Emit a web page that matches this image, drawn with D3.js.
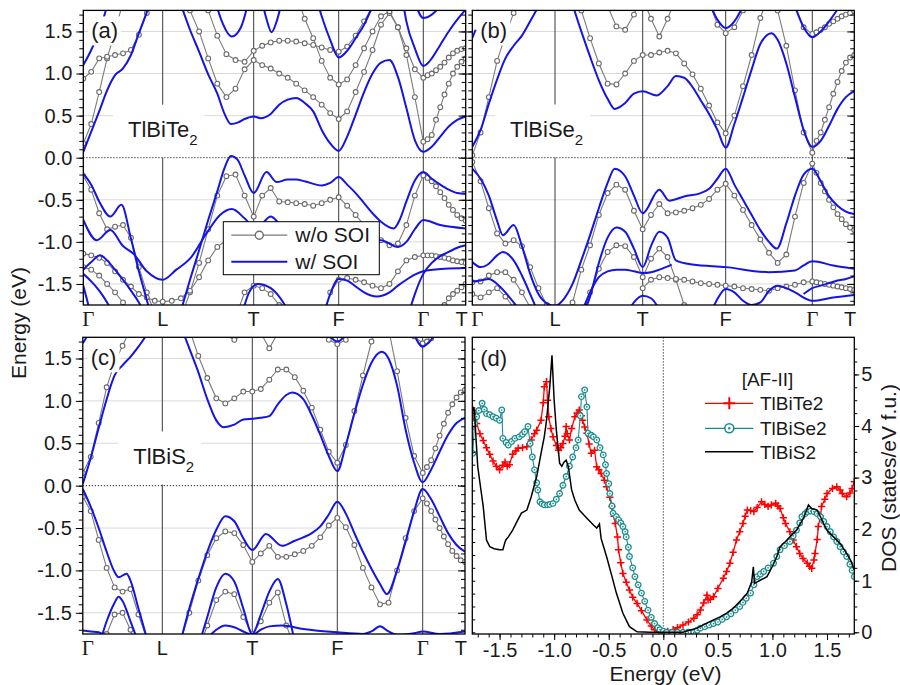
<!DOCTYPE html>
<html>
<head>
<meta charset="utf-8">
<script src="https://cdn.jsdelivr.net/npm/d3@7"></script>
<style>
body{margin:0;background:#fff}
</style>
</head>
<body>
<svg id="fig" width="900" height="685"></svg>
<script>
// ---- tick / label data
const kLabels=['Γ','L','T','F','Γ','T']
const eMajor=[-1.5,-1.0,-0.5,0.0,0.5,1.0,1.5]
const eGrid=[-1.5,-1.0,-0.5,0.5,1.0,1.5]
const dosXTicks=[-1.5,-1.0,-0.5,0.0,0.5,1.0,1.5]
const dosYTicks=[0,1,2,3,4,5]
const legendBands=['w/o SOI','w/ SOI']
const legendDos=['TlBiTe2','TlBiSe2','TlBiS2']

// gray (w/o SOI) bands: [start k, energies every 0.1 in k]
const grayTe=[
 [0,[0.17,0.40,0.78,1.18,1.50,1.85]],
 [1.2,[1.95,1.75,1.50,1.18,0.88,0.72,0.82,1.05,1.16, 1.10,1.06,1.00,0.95,0.88,0.80,0.72,0.63,0.53,0.46, 0.55,0.78,1.02,1.28,1.58,1.72,1.55,1.22,0.72,0.19, 0.22,0.27,0.45,0.60,0.75,0.88,1.00,1.08,1.14,1.18]],
 [0,[0.94,1.02,1.18,1.20,1.22,1.24,1.28,1.46,1.72,1.95]],
 [2.5,[1.95,1.65,1.42,1.15,0.95,0.87,0.93,1.10,1.30,1.50,1.68,1.74,1.55,1.30,1.05,0.95,0.98,1.00,1.04,1.08,1.13,1.19,1.24,1.27,1.29,1.30]],
 [1.5,[1.75,1.45,1.23,1.16,1.14,1.27,1.33,1.37,1.39,1.39,1.38,1.36,1.34,1.31,1.28,1.26,1.32,1.45,1.62,1.80]],
 [0,[-0.22,-0.38,-0.66,-0.85,-0.82,-0.80,-0.95,-1.30,-1.60,-1.85]],
 [1.2,[-1.9,-1.6,-1.25,-0.85,-0.45,-0.22,-0.20,-0.45,-0.70, -0.45,-0.36,-0.52,-0.53,-0.54,-0.55,-0.57,-0.54,-0.50,-0.47, -0.57,-0.68,-0.80,-0.90,-0.98,-1.04,-1.02,-0.80,-0.45,-0.21, -0.24,-0.28,-0.34,-0.41,-0.48,-0.56,-0.62,-0.68,-0.72,-0.75]],
 [0,[-1.14,-1.16,-1.19,-1.25,-1.35,-1.45,-1.53,-1.62,-1.66,-1.70,-1.71,-1.70,-1.67,-1.58,-1.42,-1.22,-1.06,-0.98,-0.97,-1.05,-1.20]],
 [0,[-1.30,-1.33,-1.40,-1.50,-1.60,-1.72,-1.85]],
 [2.9,[-1.60,-1.45,-1.43,-1.45,-1.48,-1.52,-1.55,-1.50,-1.35,-1.22,-1.18,-1.16,-1.16,-1.16,-1.17,-1.18,-1.19,-1.20,-1.22,-1.23,-1.24,-1.25]],
 [4.3,[-1.95,-1.85,-1.75,-1.67,-1.62,-1.58,-1.54,-1.50]],
 [1.8,[-1.9,-1.60,-1.52,-1.55,-1.62,-1.75,-1.9]]
]
// blue (w/ SOI) bands: [k, E] pairs
const blueTe=[
 [[0,0.07],[0.1,0.31],[0.2,0.55],[0.3,0.80],[0.4,0.98],[0.5,1.06],[0.6,1.22],[0.7,1.48],[0.8,1.73],[0.9,2.0]],
 [[1.2,1.82],[1.3,1.52],[1.4,1.26],[1.5,0.99],[1.6,0.76],[1.68,0.52],[1.75,0.40],[1.83,0.42],[1.9,0.46],[2.0,0.49],[2.08,0.47],[2.2,0.52],[2.3,0.63],[2.4,0.69],[2.5,0.71],[2.6,0.65],[2.7,0.55],[2.8,0.33],[2.9,0.17],[3.0,0.08],[3.1,0.25],[3.2,0.51],[3.3,0.78],[3.4,1.00],[3.5,1.13],[3.6,1.16],[3.7,0.96],[3.8,0.59],[3.9,0.21],[4.0,0.07],[4.2,0.13],[4.4,0.25],[4.6,0.37],[4.8,0.45],[5.0,0.49]],
 [[0,1.10],[0.1,1.28],[0.2,1.5],[0.3,1.8]],
 [[1.58,1.85],[1.65,1.62],[1.76,1.44],[1.86,1.55],[1.93,1.80]],
 [[2.1,1.85],[2.15,1.65],[2.21,1.49],[2.27,1.62],[2.33,1.85]],
 [[2.75,1.85],[2.8,1.68],[2.9,1.40],[3.0,1.19],[3.1,1.27],[3.2,1.42],[3.3,1.58],[3.4,1.80]],
 [[3.76,1.85],[3.8,1.62],[3.9,1.30],[4.0,1.09],[4.1,1.12],[4.2,1.18],[4.4,1.34],[4.6,1.50],[4.8,1.64],[5.0,1.76]],
 [[3.9,1.85],[4.0,1.66],[4.2,1.70],[4.4,1.80]],
 [[0,-0.19],[0.1,-0.32],[0.2,-0.52],[0.34,-0.70],[0.48,-0.56],[0.6,-0.96],[0.7,-1.35],[0.8,-1.69],[0.86,-1.9]],
 [[1.2,-1.82],[1.3,-1.45],[1.4,-1.10],[1.5,-0.74],[1.6,-0.40],[1.68,-0.12],[1.75,0.02],[1.82,-0.02],[1.9,-0.21],[2.0,-0.42],[2.15,-0.17],[2.27,-0.29],[2.4,-0.26],[2.5,-0.26],[2.6,-0.28],[2.8,-0.33],[2.9,-0.30],[3.0,-0.23],[3.1,-0.32],[3.2,-0.42],[3.3,-0.54],[3.4,-0.66],[3.5,-0.76],[3.65,-0.84],[3.72,-0.74],[3.8,-0.52],[3.9,-0.27],[4.0,-0.17],[4.2,-0.25],[4.4,-0.32],[4.6,-0.38],[4.8,-0.42],[5.0,-0.43]],
 [[0,-0.74],[0.17,-0.98],[0.34,-0.86],[0.5,-1.05],[0.63,-1.14],[0.8,-1.35],[1.0,-1.45],[1.15,-1.33],[1.3,-1.20],[1.48,-0.90],[1.63,-0.68],[1.76,-0.61],[1.9,-0.72],[2.0,-0.82],[2.1,-0.78],[2.2,-0.70],[2.3,-0.78],[2.5,-0.90],[3.0,-1.0],[3.5,-0.98],[3.7,-1.06],[3.8,-1.0],[3.9,-0.85],[4.0,-0.74],[4.4,-0.80],[5.0,-0.84]],
 [[0,-1.33],[0.1,-1.24],[0.21,-1.16],[0.3,-1.22],[0.4,-1.33],[0.5,-1.45],[0.6,-1.58],[0.7,-1.72],[0.8,-1.9]],
 [[0,-1.38],[0.1,-1.47],[0.2,-1.58],[0.3,-1.72],[0.4,-1.9]],
 [[0,-1.52],[0.05,-1.7],[0.1,-1.9]],
 [[2.8,-1.95],[2.9,-1.62],[3.0,-1.44],[3.1,-1.46],[3.2,-1.53],[3.3,-1.60],[3.45,-1.65],[3.6,-1.60],[3.7,-1.52],[3.8,-1.45],[3.9,-1.39],[4.0,-1.35],[4.5,-1.32],[5.0,-1.31]],
 [[3.8,-1.95],[3.9,-1.62],[4.0,-1.38],[4.2,-1.25],[4.4,-1.17],[4.6,-1.12],[4.8,-1.07],[5.0,-1.04]],
 [[1.85,-1.95],[1.95,-1.6],[2.05,-1.5],[2.2,-1.55],[2.3,-1.65],[2.45,-1.9]]
]

const graySe=[
 [0,[0.03,0.30,0.72,1.15,1.45,1.72,1.95]],
 [1.2,[1.95,1.75,1.42,1.12,0.88,0.87,1.00,1.15,1.22, 1.22,1.25,1.27,1.24,1.12,0.99,0.82,0.62,0.42,0.29, 0.50,0.85,1.22,1.66,1.95,1.75,1.33,0.80,0.30,0.06, 0.20,0.30,0.45,0.60,0.76,0.90,1.03,1.13,1.19,1.22]],
 [2.8,[1.85,1.58,1.48,1.55,1.75,1.95]],
 [3.8,[1.80,1.55,1.47,1.49,1.52,1.55,1.59,1.62,1.65,1.68,1.70,1.72,1.74]],
 [1.6,[1.80,1.56,1.52,1.70,1.95]],
 [2.0,[1.9,1.65,1.44,1.65,1.9]],
 [0,[-0.05,-0.28,-0.60,-0.90,-1.02,-0.98,-1.05,-1.30,-1.55,-1.75,-1.9]],
 [1.1,[-1.95,-1.72,-1.33,-1.04,-0.68,-0.42,-0.32,-0.38,-0.63,-0.85, -0.68,-0.55,-0.66,-0.65,-0.63,-0.60,-0.56,-0.49,-0.38,-0.31, -0.45,-0.62,-0.80,-0.97,-1.13,-1.25,-1.15,-0.70,-0.30,-0.07, -0.18,-0.30,-0.40,-0.50,-0.59,-0.67,-0.73,-0.79,-0.83,-0.86]],
 [0,[-1.48,-1.47,-1.40,-1.36,-1.36,-1.45,-1.60,-1.78,-1.95]],
 [0,[-1.62,-1.66,-1.60,-1.55,-1.65,-1.78,-1.95]],
 [1.3,[-1.9,-1.60,-1.32,-1.12,-1.04,-1.05,-1.18,-1.42,-1.20,-1.08,-1.18,-1.45,-1.75]],
 [2.0,[-1.55,-1.45,-1.42,-1.43,-1.44,-1.45,-1.47,-1.49,-1.50,-1.51,-1.52,-1.53,-1.55,-1.56,-1.57,-1.58,-1.55,-1.53,-1.51,-1.48,-1.47,-1.48,-1.49,-1.50,-1.51,-1.52,-1.53,-1.54,-1.55,-1.56,-1.57]]
]
const blueSe=[
 [[0,0.13],[0.1,0.33],[0.2,0.64],[0.3,0.93],[0.4,1.18],[0.5,1.33],[0.6,1.45],[0.7,1.62],[0.8,1.80],[0.9,2.0]],
 [[1.2,1.82],[1.3,1.50],[1.4,1.20],[1.5,0.92],[1.6,0.70],[1.68,0.58],[1.8,0.65],[1.9,0.76],[2.0,0.79],[2.17,0.74],[2.3,0.85],[2.4,0.97],[2.5,0.95],[2.6,0.84],[2.7,0.68],[2.8,0.52],[2.9,0.33],[3.0,0.12],[3.1,0.40],[3.2,0.72],[3.3,1.05],[3.4,1.35],[3.53,1.48],[3.6,1.40],[3.7,1.12],[3.8,0.72],[3.9,0.33],[4.0,0.13],[4.2,0.20],[4.4,0.38],[4.6,0.58],[4.8,0.72],[5.0,0.79]],
 [[0,1.42],[0.04,1.52]],
 [[2.8,1.85],[2.9,1.64],[3.0,1.54],[3.1,1.62],[3.2,1.80]],
 [[3.8,1.80],[3.9,1.55],[4.0,1.43],[4.2,1.50],[4.4,1.62],[4.6,1.76]],
 [[0,-0.13],[0.1,-0.25],[0.2,-0.45],[0.3,-0.75],[0.37,-0.92],[0.5,-0.80],[0.6,-1.05],[0.7,-1.38],[0.8,-1.62],[0.9,-1.73],[1.0,-1.76],[1.1,-1.68],[1.2,-1.50],[1.3,-1.22],[1.4,-0.92],[1.5,-0.60],[1.6,-0.30],[1.68,-0.13],[1.8,-0.22],[1.9,-0.45],[2.0,-0.66],[2.2,-0.38],[2.32,-0.51],[2.5,-0.46],[2.7,-0.42],[2.8,-0.37],[2.9,-0.25],[3.0,-0.13],[3.1,-0.32],[3.2,-0.50],[3.3,-0.68],[3.4,-0.86],[3.5,-1.0],[3.59,-1.08],[3.7,-0.78],[3.8,-0.45],[3.9,-0.20],[4.0,-0.13],[4.2,-0.28],[4.4,-0.46],[4.6,-0.57],[4.8,-0.64],[5.0,-0.67]],
 [[0,-1.24],[0.1,-1.30],[0.2,-1.26],[0.3,-1.16],[0.37,-1.12],[0.5,-1.22],[0.6,-1.40],[0.7,-1.62],[0.8,-1.85]],
 [[1.3,-1.9],[1.4,-1.65],[1.5,-1.25],[1.6,-0.95],[1.7,-0.83],[1.8,-0.88],[1.9,-1.08],[2.0,-1.30],[2.1,-1.05],[2.2,-0.88],[2.3,-0.95],[2.4,-1.22],[2.6,-1.27],[3.0,-1.30],[3.5,-1.36],[3.8,-1.34],[3.9,-1.28],[4.0,-1.23],[4.5,-1.28],[5.0,-1.32]],
 [[1.3,-1.85],[1.4,-1.6],[1.5,-1.42],[1.6,-1.35],[1.7,-1.33],[1.8,-1.33],[1.9,-1.35],[2.0,-1.37],[2.1,-1.36],[2.2,-1.33],[2.35,-1.27]],
 [[0,-1.47],[0.1,-1.46],[0.2,-1.44],[0.3,-1.50],[0.4,-1.60],[0.5,-1.72],[0.6,-1.85]],
 [[1.8,-1.9],[1.9,-1.72],[2.0,-1.64],[2.1,-1.67],[2.2,-1.8]],
 [[2.8,-1.9],[2.9,-1.68],[3.0,-1.56],[3.1,-1.60],[3.2,-1.70],[3.3,-1.75],[3.4,-1.72],[3.5,-1.58],[3.6,-1.52],[3.7,-1.55],[3.8,-1.60],[4.0,-1.70],[4.5,-1.66],[5.0,-1.63]],
 [[3.9,-1.62],[4.0,-1.55],[4.2,-1.52],[4.4,-1.49],[4.6,-1.46],[4.8,-1.44],[5.0,-1.41]]
]

const grayS=[
 [0,[0.15,0.34,0.74,1.16,1.45,1.65,1.85]],
 [1.2,[2.0,1.85,1.53,1.27,1.03,0.97,1.03,1.11,1.11, 1.14,1.25,1.37,1.37,1.28,1.12,0.92,0.66,0.40,0.27, 0.48,0.88,1.30,1.70,1.95,1.85,1.35,0.80,0.35,0.15, 0.22,0.30,0.44,0.59,0.73,0.86,0.96,1.04,1.10,1.13]],
 [1.7,[1.78,1.72,1.78]],
 [2.1,[1.80,1.62,1.80]],
 [2.9,[1.72,1.67,1.72]],
 [3.9,[1.76,1.68,1.70,1.74]],
 [0,[-0.13,-0.30,-0.64,-0.97,-1.20,-1.25,-1.22,-1.52,-1.80]],
 [1.2,[-1.85,-1.50,-1.12,-0.82,-0.62,-0.54,-0.56,-0.70,-0.90, -0.80,-0.71,-0.84,-0.84,-0.81,-0.77,-0.71,-0.61,-0.47,-0.38, -0.49,-0.70,-0.97,-1.20,-1.40,-1.38,-1.00,-0.62,-0.30,-0.15, -0.21,-0.30,-0.40,-0.50,-0.60,-0.69,-0.77,-0.83,-0.88,-0.90]],
 [0.3,[-1.75,-1.52,-1.50,-1.70,-1.95]],
 [1.4,[-1.95,-1.65,-1.35,-1.25,-1.28,-1.55,-1.75,-1.60,-1.38,-1.26,-1.65,-1.9]]
]
const blueS=[
 [[0,0.02],[0.1,0.33],[0.2,0.68],[0.3,1.02],[0.4,1.30],[0.5,1.42],[0.6,1.52],[0.7,1.64],[0.8,1.78],[0.9,2.0]],
 [[1.2,1.92],[1.25,1.76],[1.3,1.62],[1.4,1.34],[1.5,1.02],[1.6,0.77],[1.68,0.69],[1.8,0.72],[1.9,0.78],[2.0,0.79],[2.1,0.80],[2.2,0.82],[2.3,0.96],[2.4,1.07],[2.47,1.10],[2.6,1.02],[2.7,0.83],[2.8,0.60],[2.9,0.35],[3.0,0.17],[3.1,0.48],[3.2,0.85],[3.3,1.19],[3.4,1.45],[3.52,1.58],[3.6,1.50],[3.7,1.18],[3.8,0.66],[3.9,0.27],[4.0,0.04],[4.2,0.19],[4.4,0.40],[4.6,0.60],[4.8,0.74],[5.0,0.80]],
 [[0,1.68],[0.08,1.8]],
 [[2.9,1.78],[3.0,1.70],[3.1,1.78]],
 [[3.9,1.78],[4.0,1.64],[4.1,1.67],[4.2,1.72],[4.3,1.8]],
 [[0,-0.04],[0.1,-0.25],[0.2,-0.50],[0.3,-0.78],[0.4,-1.02],[0.45,-1.08],[0.55,-1.04],[0.6,-1.12],[0.7,-1.45],[0.8,-1.78],[0.85,-1.95]],
 [[1.2,-1.85],[1.3,-1.45],[1.4,-1.10],[1.5,-0.78],[1.6,-0.52],[1.7,-0.36],[1.8,-0.42],[1.9,-0.62],[2.0,-0.76],[2.16,-0.57],[2.35,-0.71],[2.5,-0.65],[2.6,-0.61],[2.7,-0.56],[2.8,-0.48],[2.9,-0.34],[3.0,-0.19],[3.1,-0.33],[3.2,-0.56],[3.3,-0.78],[3.4,-0.98],[3.5,-1.16],[3.58,-1.28],[3.7,-1.0],[3.8,-0.66],[3.9,-0.30],[4.0,-0.04],[4.2,-0.16],[4.4,-0.36],[4.6,-0.56],[4.8,-0.70],[5.0,-0.78]],
 [[0.2,-1.9],[0.3,-1.60],[0.4,-1.38],[0.45,-1.31],[0.5,-1.36],[0.6,-1.6],[0.7,-1.85]],
 [[1.4,-1.9],[1.5,-1.55],[1.6,-1.20],[1.7,-1.04],[1.8,-1.13],[1.9,-1.45],[2.0,-1.75],[2.1,-1.52],[2.2,-1.25],[2.3,-1.10],[2.4,-1.40],[2.5,-1.85]],
 [[1.5,-1.8],[1.6,-1.70],[1.7,-1.65],[1.8,-1.67],[1.9,-1.72],[2.0,-1.76],[2.1,-1.70],[2.2,-1.66],[2.35,-1.65],[2.6,-1.69],[3.0,-1.73],[3.3,-1.75],[3.4,-1.72],[3.5,-1.66],[3.6,-1.72],[3.7,-1.76],[3.9,-1.74],[4.0,-1.72],[4.4,-1.75],[5.0,-1.72]],
 [[0,-1.71],[0.1,-1.72],[0.2,-1.73],[0.3,-1.78]]
]

// DOS curves [energy, states/eV f.u.]
const dosTe=[[-1.745,3.99],[-1.73,4.30],[-1.71,4.05],[-1.68,3.85],[-1.65,3.72],[-1.62,3.58],[-1.59,3.45],[-1.56,3.32],[-1.53,3.22],[-1.50,3.15],[-1.47,3.24],[-1.45,3.30],[-1.43,3.22],[-1.41,3.25],[-1.38,3.45],[-1.35,3.52],[-1.33,3.57],[-1.29,3.58],[-1.25,3.60],[-1.21,3.73],[-1.18,3.85],[-1.16,3.92],[-1.12,4.11],[-1.10,4.45],[-1.09,4.76],[-1.07,4.86],[-1.06,4.50],[-1.05,4.18],[-1.03,3.95],[-1.01,3.79],[-0.98,3.62],[-0.96,3.53],[-0.94,3.58],[-0.92,3.66],[-0.90,3.80],[-0.89,3.99],[-0.88,3.85],[-0.86,3.73],[-0.84,3.95],[-0.81,4.18],[-0.79,4.25],[-0.77,4.31],[-0.75,4.20],[-0.74,4.11],[-0.72,3.98],[-0.70,3.86],[-0.68,3.65],[-0.66,3.47],[-0.63,3.53],[-0.61,3.21],[-0.59,3.15],[-0.57,3.08],[-0.54,2.95],[-0.52,2.82],[-0.49,2.62],[-0.47,2.44],[-0.45,2.25],[-0.44,2.11],[-0.42,1.85],[-0.41,1.60],[-0.39,1.35],[-0.37,1.14],[-0.34,0.97],[-0.31,0.82],[-0.28,0.68],[-0.24,0.56],[-0.20,0.42],[-0.15,0.24],[-0.11,0.12],[-0.08,0.05],[-0.04,0.02],[0,0.01],[0.04,0.02],[0.09,0.05],[0.13,0.09],[0.18,0.14],[0.23,0.20],[0.28,0.27],[0.31,0.34],[0.34,0.43],[0.37,0.57],[0.40,0.72],[0.41,0.63],[0.43,0.64],[0.46,0.69],[0.50,0.85],[0.55,1.05],[0.58,1.18],[0.61,1.34],[0.64,1.55],[0.67,1.79],[0.70,1.95],[0.73,2.11],[0.75,2.25],[0.77,2.37],[0.80,2.36],[0.83,2.34],[0.86,2.42],[0.90,2.53],[0.93,2.48],[0.96,2.44],[0.99,2.47],[1.03,2.50],[1.05,2.45],[1.07,2.40],[1.10,2.22],[1.12,2.11],[1.16,1.95],[1.19,1.79],[1.22,1.66],[1.25,1.53],[1.28,1.43],[1.32,1.34],[1.34,1.28],[1.36,1.24],[1.38,1.40],[1.39,1.53],[1.41,1.80],[1.42,2.05],[1.44,2.25],[1.45,2.44],[1.48,2.58],[1.50,2.69],[1.55,2.79],[1.59,2.82],[1.62,2.76],[1.64,2.69],[1.68,2.63],[1.71,2.70],[1.73,2.79],[1.75,2.92]]
const dosSe=[[-1.745,3.47],[-1.73,4.05],[-1.71,4.18],[-1.69,4.30],[-1.66,4.44],[-1.64,4.32],[-1.62,4.24],[-1.59,4.22],[-1.56,4.18],[-1.53,4.15],[-1.50,4.11],[-1.48,4.31],[-1.47,3.76],[-1.44,3.68],[-1.42,3.63],[-1.39,3.70],[-1.36,3.76],[-1.32,3.79],[-1.29,3.84],[-1.27,3.89],[-1.24,3.99],[-1.22,3.66],[-1.20,3.40],[-1.18,3.15],[-1.16,2.90],[-1.15,2.76],[-1.13,2.53],[-1.11,2.49],[-1.09,2.47],[-1.06,2.47],[-1.04,2.48],[-1.01,2.50],[-0.98,2.58],[-0.95,2.69],[-0.92,2.85],[-0.89,3.02],[-0.86,3.22],[-0.83,3.40],[-0.80,3.58],[-0.78,3.73],[-0.76,4.20],[-0.75,4.57],[-0.72,4.70],[-0.70,4.37],[-0.69,3.86],[-0.66,3.82],[-0.64,3.79],[-0.61,3.73],[-0.58,3.58],[-0.55,3.44],[-0.53,3.25],[-0.52,3.08],[-0.50,2.88],[-0.49,2.69],[-0.47,2.45],[-0.46,2.31],[-0.43,2.24],[-0.41,2.18],[-0.39,2.12],[-0.37,2.05],[-0.35,1.95],[-0.34,1.85],[-0.32,1.65],[-0.31,1.47],[-0.28,1.25],[-0.26,1.08],[-0.23,0.92],[-0.20,0.76],[-0.17,0.60],[-0.14,0.43],[-0.11,0.29],[-0.08,0.17],[-0.05,0.09],[-0.03,0.05],[0.0,0.02],[0.03,0.0],[0.08,0.0],[0.13,0.0],[0.18,0.0],[0.23,0.0],[0.28,0.0],[0.31,0.04],[0.34,0.08],[0.38,0.11],[0.42,0.14],[0.46,0.17],[0.50,0.20],[0.54,0.25],[0.58,0.30],[0.62,0.36],[0.66,0.43],[0.70,0.50],[0.73,0.58],[0.76,0.66],[0.80,0.76],[0.83,0.92],[0.86,1.08],[0.89,1.13],[0.92,1.18],[0.96,1.25],[1.01,1.34],[1.04,1.47],[1.07,1.60],[1.11,1.68],[1.16,1.76],[1.19,1.87],[1.22,1.98],[1.25,2.12],[1.27,2.24],[1.30,2.30],[1.32,2.34],[1.35,2.35],[1.38,2.34],[1.41,2.30],[1.44,2.24],[1.47,2.15],[1.50,2.05],[1.53,1.95],[1.56,1.85],[1.59,1.76],[1.62,1.66],[1.65,1.56],[1.68,1.47],[1.71,1.32],[1.73,1.20],[1.75,1.08]]
const dosS=[[-1.75,4.10],[-1.745,4.37],[-1.73,4.30],[-1.72,3.90],[-1.70,3.21],[-1.68,2.90],[-1.65,2.44],[-1.62,1.79],[-1.59,1.66],[-1.55,1.62],[-1.50,1.60],[-1.47,1.60],[-1.45,1.75],[-1.44,1.80],[-1.42,1.85],[-1.38,1.98],[-1.34,2.15],[-1.30,2.31],[-1.25,2.37],[-1.21,2.63],[-1.16,3.02],[-1.12,3.47],[-1.09,3.80],[-1.07,4.11],[-1.05,4.55],[-1.04,4.76],[-1.02,5.37],[-1.00,4.50],[-0.98,3.92],[-0.95,3.28],[-0.93,3.22],[-0.91,3.30],[-0.89,3.34],[-0.87,3.21],[-0.84,2.76],[-0.81,2.56],[-0.77,2.37],[-0.70,2.21],[-0.64,2.08],[-0.61,2.02],[-0.585,2.10],[-0.57,1.82],[-0.52,1.47],[-0.47,1.08],[-0.43,0.76],[-0.37,0.37],[-0.31,0.11],[-0.24,0.01],[-0.12,0.0],[0.18,0.0],[0.24,0.04],[0.31,0.08],[0.38,0.16],[0.46,0.24],[0.52,0.30],[0.58,0.37],[0.63,0.45],[0.67,0.53],[0.72,0.64],[0.77,0.76],[0.81,0.98],[0.825,1.27],[0.835,0.95],[0.88,1.00],[0.95,1.08],[1.00,1.28],[1.04,1.47],[1.07,1.66],[1.12,1.76],[1.16,1.85],[1.22,1.98],[1.26,2.12],[1.29,2.24],[1.33,2.47],[1.36,2.40],[1.41,2.37],[1.44,2.24],[1.47,2.10],[1.50,1.98],[1.56,1.85],[1.62,1.72],[1.68,1.53],[1.72,1.38],[1.75,1.21]]

// ---- drawing
const svg=d3.select('#fig')
const defs=svg.append('defs')
const sans='"Liberation Sans", Arial, Helvetica, sans-serif'
const serif='"Liberation Serif", "Times New Roman", serif'
const blueCol='#1414e6', grayLine='#7a7a7a', grayDot='#6a6a6a'
const redCol='#ff0000', tealCol='#1a8c8c'

function styleAxis(ax,size){
  ax.select('.domain').remove()
  ax.attr('font-family',sans).attr('font-size',size||20)
  ax.selectAll('.tick line').attr('stroke','#000').attr('stroke-width',1)
  ax.selectAll('.tick text').attr('fill','#1a1a1a')
}

function clip(id,x0,y0,x1,y1){
  defs.append('clipPath').attr('id',id).append('rect')
    .attr('x',x0).attr('y',y0).attr('width',x1-x0).attr('height',y1-y0)
}

function bandPanel(p){
  const [x0,y0,x1,y1]=p.box
  const x=d3.scaleLinear().domain([0,1,2,3,4,5]).range(p.kpos)
  const y=d3.scaleLinear().domain([-1.75,1.75]).range([y1,y0])
  clip('clip'+p.id,x0,y0,x1,y1)
  const g=svg.append('g')
  const back=g.append('g'), boxes=g.append('g')
  const plot=g.append('g').attr('clip-path','url(#clip'+p.id+')')
  const front=g.append('g')

  back.selectAll('line').data(eGrid).join('line')
    .attr('x1',x0).attr('x2',x1).attr('y1',d=>y(d)).attr('y2',d=>y(d))
    .attr('stroke','#dadada').attr('stroke-width',1)
  back.selectAll('line.kl').data([1,2,3,4]).join('line').attr('class','kl')
    .attr('x1',d=>x(d)).attr('x2',d=>x(d)).attr('y1',y0).attr('y2',y1)
    .attr('stroke','#3a3a3a').attr('stroke-width',1)

  // compound name with white box behind it
  const name=front.append('text').attr('x',p.nameAt[0]).attr('y',p.nameAt[1])
    .attr('font-family',sans).attr('font-size',22).attr('fill','#1a1a1a')
  name.append('tspan').text(p.name[0])
  name.append('tspan').text(p.name[1]).attr('font-size',15).attr('dy',8)
  const nb=name.node().getBBox()
  boxes.append('rect').attr('x',nb.x-15).attr('y',nb.y-12).attr('width',nb.width+22).attr('height',nb.height+22).attr('fill','#fff')

  plot.append('line').attr('x1',x0).attr('x2',x1).attr('y1',y(0)).attr('y2',y(0))
    .attr('stroke','#222').attr('stroke-width',1).attr('stroke-dasharray','1.2,1.8')

  const gline=d3.line().x(d=>x(d[0])).y(d=>y(d[1]))
  const gray=p.gray.map(([k0,vals])=>vals.map((v,i)=>[+(k0+i*0.1).toFixed(2),v]))
  plot.selectAll('path.gr').data(gray).join('path').attr('class','gr')
    .attr('d',gline).attr('fill','none').attr('stroke',grayLine).attr('stroke-width',1.1)
  plot.selectAll('circle').data(gray.flat()).join('circle')
    .attr('cx',d=>x(d[0])).attr('cy',d=>y(d[1])).attr('r',2.4)
    .attr('fill','#fff').attr('stroke',grayDot).attr('stroke-width',1.1)
  const bline=d3.line().curve(d3.curveMonotoneX).x(d=>x(d[0])).y(d=>y(d[1]))
  plot.selectAll('path.bl').data(p.blue).join('path').attr('class','bl')
    .attr('d',bline).attr('fill','none').attr('stroke',blueCol).attr('stroke-width',2)

  // panel letter, also on white
  const lt=front.append('text').attr('x',x0+8).attr('y',y0+28).text(p.letter)
    .attr('font-family',sans).attr('font-size',22).attr('fill','#1a1a1a')
  const lb=lt.node().getBBox()
  front.insert('rect','text').attr('x',lb.x-3).attr('y',lb.y-2).attr('width',lb.width+6).attr('height',lb.height+4).attr('fill','#fff')

  front.append('rect').attr('x',x0).attr('y',y0).attr('width',x1-x0).attr('height',y1-y0)
    .attr('fill','none').attr('stroke','#000').attr('stroke-width',1.3)

  const minor=d3.range(-17,18).map(i=>i/10)
  const l1=front.append('g').attr('transform',`translate(${x0},0)`)
    .call(d3.axisLeft(y).tickValues(minor).tickSize(4).tickFormat(''))
  styleAxis(l1)
  const l2=front.append('g').attr('transform',`translate(${x0},0)`)
    .call(d3.axisLeft(y).tickValues(eMajor).tickSize(7).tickPadding(4).tickFormat(d=>p.yLabels?d.toFixed(1):''))
  styleAxis(l2)
  const r1=front.append('g').attr('transform',`translate(${x1},0)`)
    .call(d3.axisRight(y).tickValues(minor).tickSize(-4).tickFormat(''))
  styleAxis(r1)
  const r2=front.append('g').attr('transform',`translate(${x1},0)`)
    .call(d3.axisRight(y).tickValues(eMajor).tickSize(-7).tickFormat(''))
  styleAxis(r2)

  front.selectAll('text.kp').data(kLabels).join('text').attr('class','kp')
    .attr('x',(d,i)=>i==0?x(0)-1:(i==5?x(5)+2:x(i)))
    .attr('y',y1+21)
    .attr('text-anchor',(d,i)=>i==0?'start':(i==5?'end':'middle'))
    .attr('font-family',d=>d=='Γ'?serif:sans).attr('font-size',d=>d=='Γ'?21:20)
    .attr('fill','#1a1a1a').text(d=>d)

  if(p.legend){
    const [lx,ly]=p.legend
    const lg=front.append('g').attr('transform',`translate(${lx},${ly})`)
    lg.append('rect').attr('width',156).attr('height',53).attr('fill','#fff').attr('stroke','#000').attr('stroke-width',1)
    lg.append('line').attr('x1',8).attr('x2',64).attr('y1',13.5).attr('y2',13.5).attr('stroke',grayLine).attr('stroke-width',1.3)
    lg.append('circle').attr('cx',36).attr('cy',13.5).attr('r',4).attr('fill','#fff').attr('stroke',grayDot).attr('stroke-width',1.4)
    lg.append('line').attr('x1',8).attr('x2',64).attr('y1',40).attr('y2',40).attr('stroke',blueCol).attr('stroke-width',2)
    lg.selectAll('text').data(legendBands).join('text')
      .attr('x',72).attr('y',(d,i)=>20.5+i*26.5).text(d=>d)
      .attr('font-family',sans).attr('font-size',21).attr('fill','#1a1a1a')
  }
}

bandPanel({id:'a',box:[83.3,10.4,465.7,305],kpos:[83.3,162.7,253.7,338.7,423.3,465.7],
  gray:grayTe,blue:blueTe,name:['TlBiTe','2'],nameAt:[128,136.7],letter:'(a)',yLabels:true,legend:[223.3,221.7]})
bandPanel({id:'b',box:[472.3,10.4,854.3,305],kpos:[472.3,555,642.7,725.7,812.3,854.3],
  gray:graySe,blue:blueSe,name:['TlBiSe','2'],nameAt:[510,136.5],letter:'(b)',yLabels:false})
bandPanel({id:'c',box:[82.8,337.3,465,634],kpos:[82.8,162.3,252.3,337.3,422.7,465],
  gray:grayS,blue:blueS,name:['TlBiS','2'],nameAt:[133.3,463.5],letter:'(c)',yLabels:true})

// ---- DOS panel
function dosPanel(){
  const x0=472.3,y0=337.3,x1=854.3,y1=634
  const x=d3.scaleLinear().domain([-1.75,1.75]).range([x0,x1])
  const y=d3.scaleLinear().domain([-0.033,5.72]).range([y1,y0])
  clip('clipd',x0,y0,x1,y1)
  const g=svg.append('g')
  const plot=g.append('g').attr('clip-path','url(#clipd)')
  plot.append('line').attr('x1',x(0)).attr('x2',x(0)).attr('y1',y0).attr('y2',y1)
    .attr('stroke','#222').attr('stroke-width',1).attr('stroke-dasharray','1.2,1.8')
  const line=d3.line().x(d=>x(d[0])).y(d=>y(d[1]))
  const plus='M-3.6,0H3.6M0,-3.6V3.6'

  plot.append('path').datum(dosTe).attr('d',line).attr('fill','none').attr('stroke',redCol).attr('stroke-width',1.3)
  plot.selectAll('path.pl').data(dosTe).join('path').attr('class','pl')
    .attr('d',plus).attr('transform',d=>`translate(${x(d[0])},${y(d[1])})`)
    .attr('stroke',redCol).attr('stroke-width',1.5).attr('fill','none')

  plot.append('path').datum(dosSe).attr('d',line).attr('fill','none').attr('stroke',tealCol).attr('stroke-width',1.1)
  const se=plot.selectAll('g.se').data(dosSe).join('g').attr('class','se')
    .attr('transform',d=>`translate(${x(d[0])},${y(d[1])})`)
  se.append('circle').attr('r',2.8).attr('fill','#fff').attr('stroke',tealCol).attr('stroke-width',1.3)
  se.append('circle').attr('r',0.85).attr('fill',tealCol)

  plot.append('path').datum(dosS).attr('d',line).attr('fill','none').attr('stroke','#000').attr('stroke-width',1.5)

  g.append('rect').attr('x',x0).attr('y',y0).attr('width',x1-x0).attr('height',y1-y0)
    .attr('fill','none').attr('stroke','#000').attr('stroke-width',1.3)

  const xm=g.append('g').attr('transform',`translate(0,${y1})`)
    .call(d3.axisBottom(x).tickValues(d3.range(-17,18).map(i=>i/10)).tickSize(3.5).tickFormat(''))
  styleAxis(xm)
  const xa=g.append('g').attr('transform',`translate(0,${y1})`)
    .call(d3.axisBottom(x).tickValues(dosXTicks).tickSize(6).tickPadding(3).tickFormat(d=>d.toFixed(1)))
  styleAxis(xa)
  const ym=g.append('g').attr('transform',`translate(${x1},0)`)
    .call(d3.axisRight(y).tickValues(d3.range(0,23).map(i=>i/4)).tickSize(3).tickFormat(''))
  styleAxis(ym)
  const ya=g.append('g').attr('transform',`translate(${x1},0)`)
    .call(d3.axisRight(y).tickValues(dosYTicks).tickSize(5).tickPadding(2).tickFormat(d=>d))
  styleAxis(ya)
  const yl=g.append('g').attr('transform',`translate(${x0},0)`)
    .call(d3.axisLeft(y).tickValues(d3.range(0,23).map(i=>i/4)).tickSize(-3).tickFormat(''))
  styleAxis(yl)

  g.append('text').attr('x',x0+8).attr('y',y0+29).text('(d)')
    .attr('font-family',sans).attr('font-size',22).attr('fill','#1a1a1a')

  // legend
  const lg=g.append('g')
  lg.append('text').attr('x',767.5).attr('y',386).attr('text-anchor','middle').text('[AF-II]')
    .attr('font-family',sans).attr('font-size',19).attr('fill','#1a1a1a')
  const rows=[403.3,428.3,451.7], cols=[redCol,tealCol,'#000']
  rows.forEach((ry,i)=>{
    lg.append('line').attr('x1',705).attr('x2',753.3).attr('y1',ry).attr('y2',ry)
      .attr('stroke',cols[i]).attr('stroke-width',i==2?1.6:1.3)
    lg.append('text').attr('x',760).attr('y',ry+7).text(legendDos[i])
      .attr('font-family',sans).attr('font-size',19).attr('fill','#1a1a1a')
  })
  lg.append('path').attr('d','M-6,0H6M0,-6V6').attr('transform',`translate(729.3,${rows[0]})`)
    .attr('stroke',redCol).attr('stroke-width',2)
  lg.append('circle').attr('cx',729.3).attr('cy',rows[1]).attr('r',4.5).attr('fill','#fff').attr('stroke',tealCol).attr('stroke-width',1.6)
  lg.append('circle').attr('cx',729.3).attr('cy',rows[1]).attr('r',1.2).attr('fill',tealCol)

  g.append('text').attr('x',665.5).attr('y',681).attr('text-anchor','middle').text('Energy (eV)')
    .attr('font-family',sans).attr('font-size',21).attr('fill','#1a1a1a')
  g.append('text').attr('transform','translate(896,478) rotate(-90)').attr('text-anchor','middle')
    .text('DOS (states/eV f.u.)').attr('font-family',sans).attr('font-size',21).attr('fill','#1a1a1a')
}
dosPanel()

svg.append('text').attr('transform','translate(25.5,323) rotate(-90)').attr('text-anchor','middle')
  .text('Energy (eV)').attr('font-family',sans).attr('font-size',21).attr('fill','#1a1a1a')
</script>
</body>
</html>
